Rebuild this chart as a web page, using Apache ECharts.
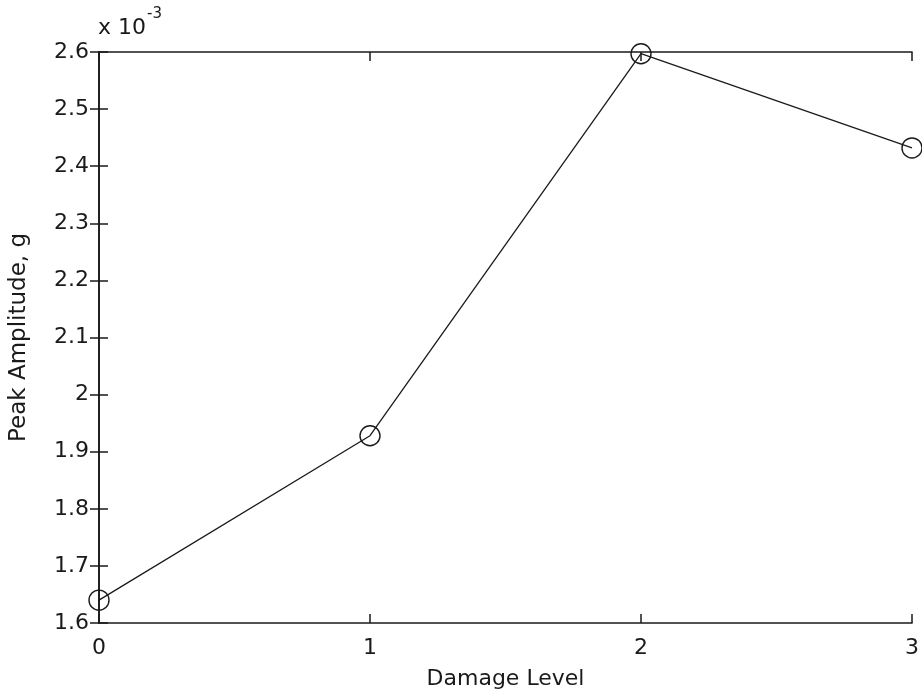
<!DOCTYPE html>
<html>
<head>
<meta charset="utf-8">
<script src="https://cdn.jsdelivr.net/npm/echarts@6/dist/echarts.min.js"></script>
<style>html,body{margin:0;padding:0;background:#fff;}#c{width:922px;height:696px;}</style>
</head>
<body>
<div id="c"></div>
<script>
// Data (peak amplitude in units of 1e-3 g)
var damageLevels = [0, 1, 2, 3];
var peakAmplitude = [1.64, 1.928, 2.597, 2.432];
var xTicks = [0, 1, 2, 3];
var yTickMin = 1.6, yTickMax = 2.6, yTickStep = 0.1;
var scaleNote = 'x 10';
var scaleExp = '-3';
var xLabel = 'Damage Level';
var yLabel = 'Peak Amplitude, g';

var FONT = 'DejaVu Sans, Liberation Sans, Arial, sans-serif';
var TXT = '#1a1a1a';
var chart = echarts.init(document.getElementById('c'), null, {renderer: 'canvas'});
var pts = damageLevels.map(function (d, i) { return [d, peakAmplitude[i]]; });
var axisLineStyle = {color: '#1a1a1a', width: 1.6};
var tickStyle = {color: '#1a1a1a', width: 1.5};
var option = {
  backgroundColor: '#fff',
  animation: false,
  grid: {left: 98, right: 4, top: 52, bottom: 73, containLabel: false},
  xAxis: [{
    type: 'value', min: xTicks[0], max: xTicks[xTicks.length - 1], interval: 1,
    position: 'bottom',
    name: xLabel, nameLocation: 'middle', nameGap: 45,
    nameTextStyle: {fontFamily: FONT, fontSize: 22, color: TXT},
    axisLine: {show: true, lineStyle: axisLineStyle},
    axisTick: {show: true, inside: true, length: 9, lineStyle: tickStyle},
    axisLabel: {fontFamily: FONT, fontSize: 22, color: TXT, margin: 14, showMaxLabel: true, showMinLabel: true},
    splitLine: {show: false}
  }, {
    type: 'value', min: xTicks[0], max: xTicks[xTicks.length - 1], interval: 1,
    position: 'top',
    axisLine: {show: true, lineStyle: axisLineStyle},
    axisTick: {show: true, inside: true, length: 9, lineStyle: tickStyle},
    axisLabel: {show: false},
    splitLine: {show: false}
  }],
  yAxis: [{
    type: 'value', min: yTickMin, max: yTickMax, interval: yTickStep,
    position: 'left',
    name: yLabel, nameLocation: 'middle', nameGap: 68, nameRotate: 90,
    nameTextStyle: {fontFamily: FONT, fontSize: 23, color: TXT},
    axisLine: {show: true, lineStyle: axisLineStyle},
    axisTick: {show: true, inside: true, length: 9, lineStyle: tickStyle},
    axisLabel: {fontFamily: FONT, fontSize: 22, color: TXT, margin: 10,
      formatter: function (v) { return String(+v.toFixed(1)); }},
    splitLine: {show: false}
  }, {
    type: 'value', min: yTickMin, max: yTickMax, interval: yTickStep,
    position: 'right',
    axisLine: {show: true, lineStyle: axisLineStyle},
    axisTick: {show: true, inside: true, length: 9, lineStyle: tickStyle},
    axisLabel: {show: false},
    splitLine: {show: false}
  }],
  graphic: [{
    type: 'text', left: 98, top: 17,
    style: {text: scaleNote, font: '22px ' + FONT, fill: TXT}
  }, {
    type: 'text', left: 147, top: 7,
    style: {text: scaleExp, font: '15px ' + FONT, fill: TXT}
  }],
  series: [{
    type: 'line', xAxisIndex: 0, yAxisIndex: 0,
    data: pts,
    symbol: 'circle', symbolSize: 20,
    showAllSymbol: true,
    clip: false,
    lineStyle: {color: '#1a1a1a', width: 1.3},
    itemStyle: {color: 'transparent', borderColor: '#1a1a1a', borderWidth: 1.4},
    emphasis: {disabled: true}
  }]
};
chart.setOption(option);
</script>
</body>
</html>
